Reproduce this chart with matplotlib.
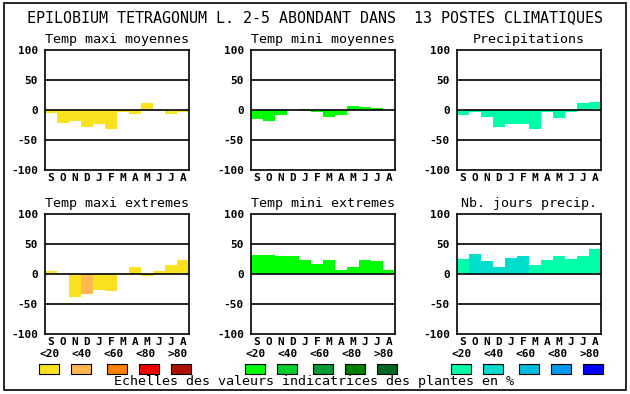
import matplotlib
matplotlib.use("Agg")
import matplotlib.pyplot as plt
from matplotlib.patches import Rectangle

W, H = 630, 394

title = "EPILOBIUM TETRAGONUM L. 2-5 ABONDANT DANS  13 POSTES CLIMATIQUES"
footer = "Echelles des valeurs indicatrices des plantes en %"
months = ['S', 'O', 'N', 'D', 'J', 'F', 'M', 'A', 'M', 'J', 'J', 'A']
yticks = [100, 50, 0, -50, -100]
scale_labels = ['<20', '<40', '<60', '<80', '>80']

panel_titles = ["Temp maxi moyennes", "Temp mini moyennes", "Precipitations",
                "Temp maxi extremes", "Temp mini extremes", "Nb. jours precip."]

tmax_moy = [-5, -21, -18, -28, -23, -31, -4, -6, 12, 0, -6, -4]
tmin_moy = [-15, -18, -8, 0, 2, -3, -11, -8, 7, 5, 3, 0]
precip = [-8, -3, -11, -28, -24, -24, -31, -4, -14, -3, 12, 14]
tmax_ext = [5, 0, -38, -33, -26, -28, 0, 12, -3, 5, 15, 23]
tmin_ext = [32, 32, 30, 30, 23, 17, 23, 7, 12, 23, 22, 7]
nb_jours = [25, 33, 22, 12, 27, 30, 15, 23, 30, 25, 30, 42]

# class index (0..4) of each bar within its colour scale
tmax_moy_cls = [0] * 12
tmin_moy_cls = [0] * 12
precip_cls = [0] * 12
tmax_ext_cls = [0, 0, 0, 1, 0, 0, 0, 0, 0, 0, 0, 0]
tmin_ext_cls = [0] * 12
nb_jours_cls = [0, 1, 1, 1, 1, 1, 0, 0, 0, 0, 0, 0]

warm = ['#FAE31E', '#FFB850', '#FF7F00', '#EE0000', '#AA1100']
green = ['#00FF00', '#00CC33', '#009933', '#008000', '#006622']
blue = ['#00FFAA', '#00DDCC', '#00BBDD', '#0099EE', '#0000FF']

series = [tmax_moy, tmin_moy, precip, tmax_ext, tmin_ext, nb_jours]
classes = [tmax_moy_cls, tmin_moy_cls, precip_cls, tmax_ext_cls, tmin_ext_cls, nb_jours_cls]
palettes = [warm, green, blue, warm, green, blue]

mono = 'DejaVu Sans Mono'

fig = plt.figure(figsize=(W / 100, H / 100), dpi=100)

# outer frame
fig.add_artist(Rectangle((4 / W, 1 - 390 / H), 622 / W, 387 / H,
                         transform=fig.transFigure, fill=False, lw=1.2, ec='black'))

fig.text(315 / W, 1 - 18 / H, title, ha='center', va='center',
         family=mono, fontsize=10.8)

lefts = [45, 251, 457]
tops = [50, 214]
for i in range(6):
    r, c = divmod(i, 3)
    ax = fig.add_axes([lefts[c] / W, 1 - (tops[r] + 120) / H, 144 / W, 120 / H])
    vals = series[i]
    cols = [palettes[i][k] for k in classes[i]]
    ax.bar(range(12), vals, width=1.0, color=cols, linewidth=0, zorder=2)
    for yv in (50, 0, -50):
        ax.axhline(yv, color='black', lw=1.2, zorder=3)
    ax.set_xlim(-0.5, 11.5)
    ax.set_ylim(-100, 100)
    ax.set_xticks(range(12))
    ax.set_xticklabels(months, family=mono, fontweight='bold', fontsize=8)
    ax.set_yticks(yticks)
    ax.set_yticklabels([str(v) for v in yticks], family=mono, fontweight='bold', fontsize=8)
    ax.tick_params(length=0)
    ax.tick_params(axis='y', pad=5)
    ax.tick_params(axis='x', pad=2)
    for s in ax.spines.values():
        s.set_linewidth(1.2)
    ax.set_title(panel_titles[i], family=mono, fontsize=9.6, pad=5)

# legend scales
group_x = [39, 245, 451]
box_off = [0, 32, 68, 100, 132]
lab_off = [0, 32, 64, 96, 128]
pals = [warm, green, blue]
for g in range(3):
    for k in range(5):
        fig.text((group_x[g] + lab_off[k]) / W, 1 - 354 / H, scale_labels[k],
                 ha='left', va='center', family=mono, fontweight='bold', fontsize=8)
        fig.add_artist(Rectangle(((group_x[g] + box_off[k]) / W, 1 - 373.5 / H),
                                 20 / W, 9.5 / H, transform=fig.transFigure,
                                 fc=pals[g][k], ec='black', lw=0.8))

fig.text(314 / W, 1 - 382 / H, footer, ha='center', va='center',
         family=mono, fontsize=9.6)

fig.savefig('out.png', dpi=100)
